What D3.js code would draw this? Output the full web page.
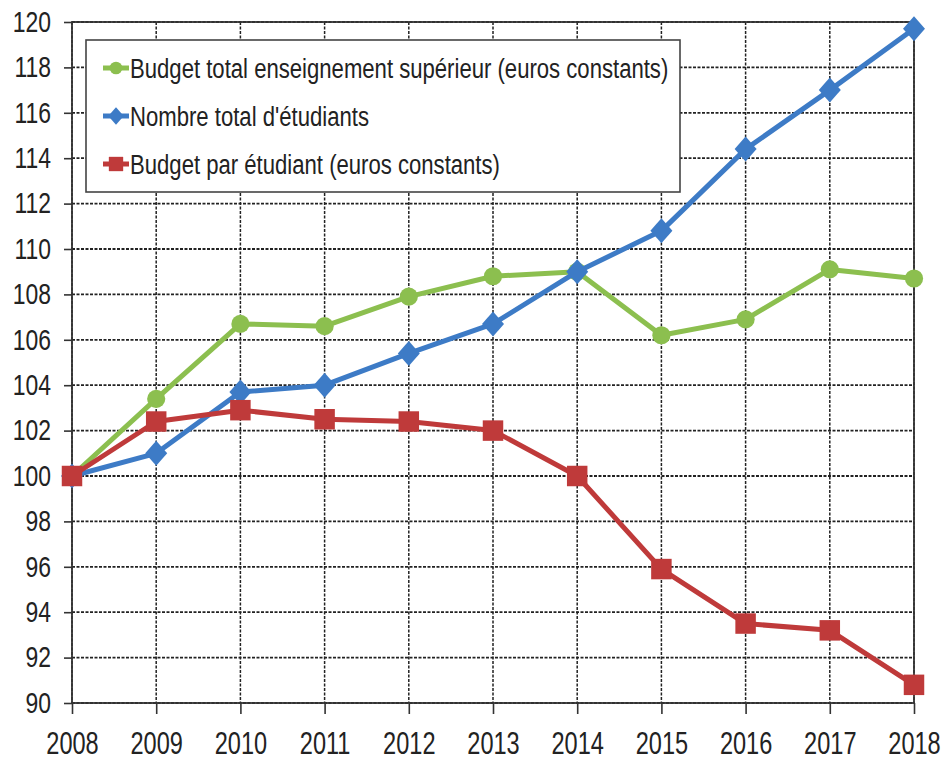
<!DOCTYPE html>
<html>
<head>
<meta charset="utf-8">
<script src="https://cdn.jsdelivr.net/npm/d3@7"></script>
<style>
  html, body { margin: 0; padding: 0; background: #fff; }
  svg { display: block; }
  .lbl { font-family: "Liberation Sans", Arial, sans-serif; fill: #222; }
</style>
</head>
<body>
<div id="chart"></div>
<script>
// data (index, 2008 = 100)
const years = [2008, 2009, 2010, 2011, 2012, 2013, 2014, 2015, 2016, 2017, 2018];
const budgetTotal = [100, 103.4, 106.7, 106.6, 107.9, 108.8, 109.0, 106.2, 106.9, 109.1, 108.7];
const etudiants = [100, 101.0, 103.7, 104.0, 105.4, 106.7, 109.0, 110.8, 114.4, 117.0, 119.7];
const budgetParEtudiant = [100, 102.4, 102.9, 102.5, 102.4, 102.0, 100.0, 95.9, 93.5, 93.2, 90.8];
const yTicks = d3.range(90, 121, 2);

const seriesNames = [
  'Budget total enseignement supérieur (euros constants)',
  "Nombre total d'étudiants",
  'Budget par étudiant (euros constants)'
];

const W = 943, H = 760;
const M = { top: 22, right: 29, bottom: 57, left: 72 };
const NARROW = 0.79; // no narrow font installed, squeeze Liberation Sans instead

const svg = d3.select('#chart').append('svg').attr('width', W).attr('height', H);
const g = svg.append('g').attr('transform', `translate(${M.left},${M.top})`);
const innerW = W - M.left - M.right, innerH = H - M.top - M.bottom;

const x = d3.scalePoint().domain(years).range([0, innerW]);
const y = d3.scaleLinear().domain([90, 120]).range([innerH, 0]);

// grid
g.append('g').selectAll('line.h').data(yTicks).join('line')
  .attr('x1', 0).attr('x2', innerW)
  .attr('y1', d => y(d)).attr('y2', d => y(d))
  .attr('stroke', '#222').attr('stroke-width', 1.8).attr('stroke-dasharray', '3,1.5');
g.append('g').selectAll('line.v').data(years).join('line')
  .attr('x1', d => x(d)).attr('x2', d => x(d))
  .attr('y1', 0).attr('y2', innerH)
  .attr('stroke', '#222').attr('stroke-width', 1.5).attr('stroke-dasharray', '3,1.5');

g.append('rect').attr('width', innerW).attr('height', innerH)
  .attr('fill', 'none').attr('stroke', '#333').attr('stroke-width', 1.8);

// axes
const yAx = g.append('g').call(d3.axisLeft(y).tickValues(yTicks).tickSize(8).tickPadding(13));
const xAx = g.append('g').attr('transform', `translate(0,${innerH})`)
  .call(d3.axisBottom(x).tickSize(11).tickPadding(18));
[yAx, xAx].forEach(ax => {
  ax.select('.domain').remove();
  ax.selectAll('line').attr('stroke', '#333').attr('stroke-width', 1.6);
});
yAx.selectAll('text').attr('class', 'lbl').style('font-size', '29px').attr('fill', '#222')
  .attr('transform', function () { return `translate(${+d3.select(this).attr('x')},0) scale(${NARROW},1)`; })
  .attr('x', 0);
xAx.selectAll('text').attr('class', 'lbl').style('font-size', '31px').attr('fill', '#222')
  .attr('transform', `scale(${NARROW - 0.03},1)`);

// series
const series = [
  { name: seriesNames[0], values: budgetTotal, color: '#8cbf4f', shape: 'circle' },
  { name: seriesNames[1], values: etudiants, color: '#3d7bc6', shape: 'diamond' },
  { name: seriesNames[2], values: budgetParEtudiant, color: '#bf3a3a', shape: 'square' }
];

const line = d3.line().x(d => x(d.year)).y(d => y(d.v));
function marker(shape, s) {
  if (shape === 'circle') return d3.symbol().type(d3.symbolCircle).size(260 * s * s)();
  if (shape === 'square') return d3.symbol().type(d3.symbolSquare).size(420 * s * s)();
  const w = 11 * s, h = 12.5 * s;
  return `M0,${-h}L${w},0L0,${h}L${-w},0Z`;
}

series.forEach(s => {
  const pts = years.map((yr, i) => ({ year: yr, v: s.values[i] }));
  g.append('path').datum(pts).attr('d', line)
    .attr('fill', 'none').attr('stroke', s.color).attr('stroke-width', 5)
    .attr('stroke-linejoin', 'round');
  g.append('g').selectAll('path').data(pts).join('path')
    .attr('transform', d => `translate(${x(d.year)},${y(d.v)})`)
    .attr('d', marker(s.shape, 1)).attr('fill', s.color);
});

// legend
const lg = svg.append('g').attr('transform', 'translate(86,40)');
lg.append('rect').attr('width', 594).attr('height', 152)
  .attr('fill', '#fff').attr('stroke', '#444').attr('stroke-width', 1.6);
series.forEach((s, i) => {
  const row = lg.append('g').attr('transform', `translate(0,${28 + i * 48})`);
  row.append('line').attr('x1', 17).attr('x2', 43).attr('stroke', s.color).attr('stroke-width', 5);
  row.append('path').attr('transform', 'translate(30,0)').attr('d', marker(s.shape, 0.7)).attr('fill', s.color);
  row.append('text').attr('class', 'lbl').attr('dy', '0.35em')
    .attr('transform', `translate(44,0) scale(${NARROW},1)`)
    .style('font-size', '28px').text(s.name);
});
</script>
</body>
</html>
